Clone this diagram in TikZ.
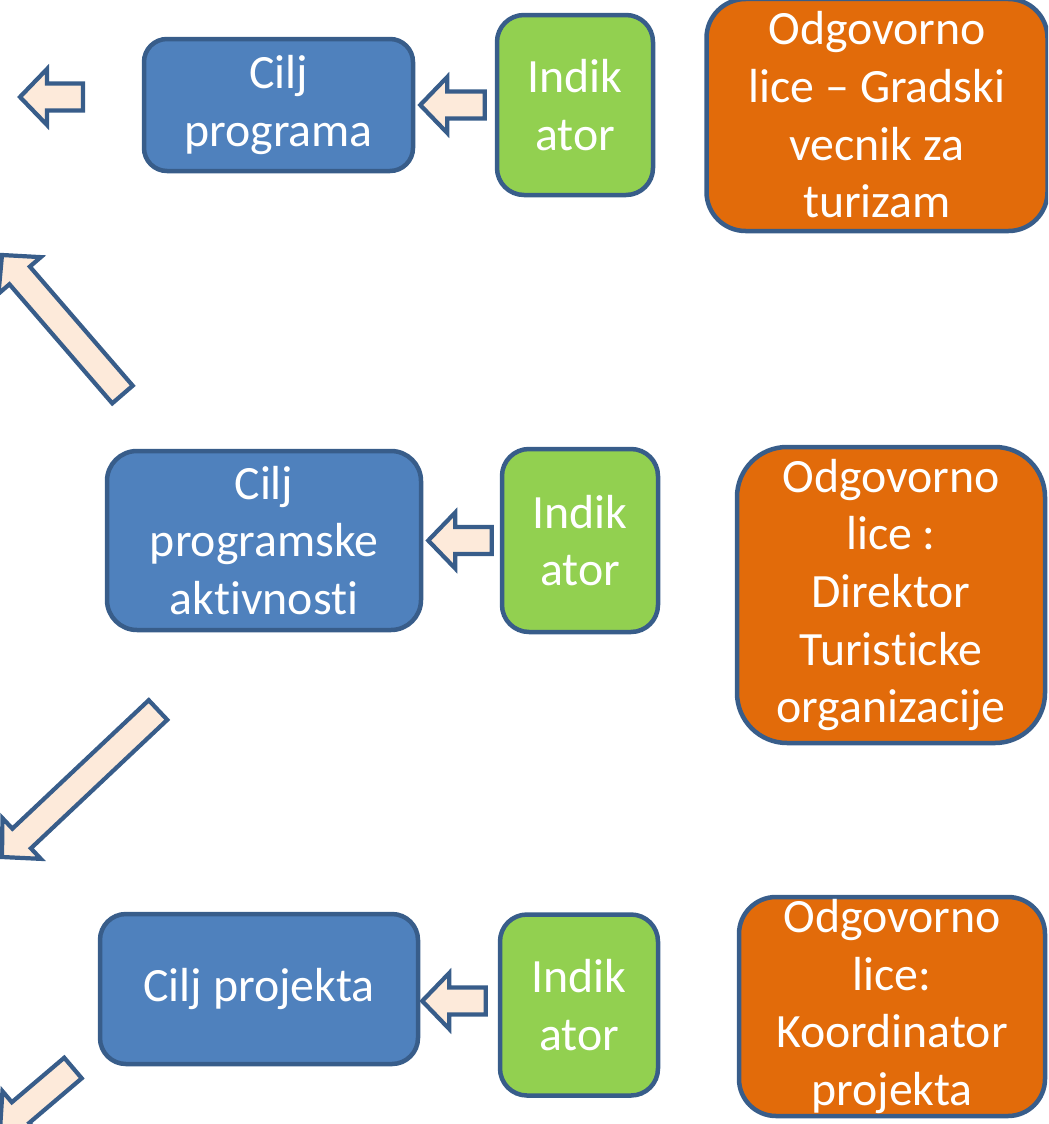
\documentclass[tikz,border=0pt]{standalone}
\usepackage{fontspec}
\setmainfont{Carlito}[Ligatures={NoCommon,TeX}]
\usepackage{tikz}
\usetikzlibrary{calc}

\definecolor{edgeblue}{RGB}{56,93,138}
\definecolor{goalblue}{RGB}{79,129,189}
\definecolor{indgreen}{RGB}{146,208,80}
\definecolor{resporange}{RGB}{226,107,10}
\definecolor{arrowfill}{RGB}{253,234,218}

\newlength{\pxu}
\setlength{\pxu}{0.025cm}
\newcommand{\boxfont}{\fontsize{34pt}{41pt}\selectfont}

% block arrow from #1 (tail) to #2 (tip)
\newcommand{\blockarrow}[2]{%
	\coordinate (hb) at ($(#2)!19.2pt!(#1)$);
	\draw[blockarr] ($(#1)!9.6pt!90:(#2)$) -- ($(hb)!9.6pt!90:(#2)$) -- ($(hb)!19.9pt!90:(#2)$) -- (#2)
		-- ($(hb)!19.9pt!-90:(#2)$) -- ($(hb)!9.6pt!-90:(#2)$) -- ($(#1)!9.6pt!-90:(#2)$) -- cycle;}

\begin{document}
\begin{tikzpicture}[x=\pxu,
				y=\pxu,
				box/.style={draw=edgeblue, line width=3.2pt, text=white, align=center, font=\boxfont, inner sep=0pt},
				blockarr/.style={draw=edgeblue, fill=arrowfill, line width=3pt, line join=miter}]

				\useasboundingbox (0,0) rectangle (1048,-1124);
				\clip (0,0) rectangle (1048,-1124);

				\node[box, fill=goalblue, minimum width=269\pxu, minimum height=132\pxu, rounded corners=23\pxu] (goal1) at (278.5,-105) {Cilj\\programa};
				\node[box, fill=indgreen, minimum width=156\pxu, minimum height=180\pxu, rounded corners=27\pxu] (ind1) at (575,-105) {Indik\\ator};
				\node[box, fill=resporange, minimum width=341\pxu, minimum height=232\pxu, rounded corners=39\pxu] (resp1) at (877,-115) {Odgovorno\\lice -- Gradski\\vecnik za\\turizam};

				\node[box, fill=goalblue, minimum width=314\pxu, minimum height=179\pxu, rounded corners=30\pxu] (goal2) at (264,-540.5) {Cilj\\programske\\aktivnosti};
				\node[box, fill=indgreen, minimum width=156\pxu, minimum height=183\pxu, rounded corners=27\pxu] (ind2) at (580,-540.5) {Indik\\ator};
				\node[box, fill=resporange, minimum width=308\pxu, minimum height=296\pxu, rounded corners=50\pxu] (resp2) at (891,-595) {Odgovorno\\lice :\\Direktor\\Turisticke\\organizacije};

				\node[box, fill=goalblue, minimum width=318\pxu, minimum height=150\pxu, rounded corners=26\pxu] (goal3) at (259,-989) {Cilj projekta};
				\node[box, fill=indgreen, minimum width=158\pxu, minimum height=181\pxu, rounded corners=27\pxu] (ind3) at (579,-1005) {Indik\\ator};
				\node[box, fill=resporange, minimum width=306\pxu, minimum height=219\pxu, rounded corners=37\pxu] (resp3) at (892,-1006.5) {Odgovorno\\lice:\\Koordinator\\projekta};

				\coordinate (out1) at (83,-97);
				\coordinate (out1tip) at (20,-97);
				\coordinate (s1) at ([xshift=-10\pxu]ind1.west);
				\coordinate (t1) at ([xshift=5\pxu]goal1.east);
				\coordinate (s2) at ([xshift=-8\pxu]ind2.west);
				\coordinate (t2) at ([xshift=5\pxu]goal2.east);
				\coordinate (s3) at ([xshift=-12\pxu, yshift=4\pxu]ind3.west);
				\coordinate (t3) at ([xshift=2\pxu]goal3.east |- s3);
				\coordinate (up1) at (122.5,-394.5);
				\coordinate (up1tip) at (2,-255);
				\coordinate (dn1) at (158,-710);
				\coordinate (dn1tip) at (2,-857);
				\coordinate (dn2) at (73,-1068);
				\coordinate (dn2tip) at (0,-1130);

				\blockarrow{out1}{out1tip}
				\blockarrow{s1}{t1}
				\blockarrow{s2}{t2}
				\blockarrow{s3}{t3}
				\blockarrow{up1}{up1tip}
				\blockarrow{dn1}{dn1tip}
				\blockarrow{dn2}{dn2tip}
			\end{tikzpicture}
\end{document}
